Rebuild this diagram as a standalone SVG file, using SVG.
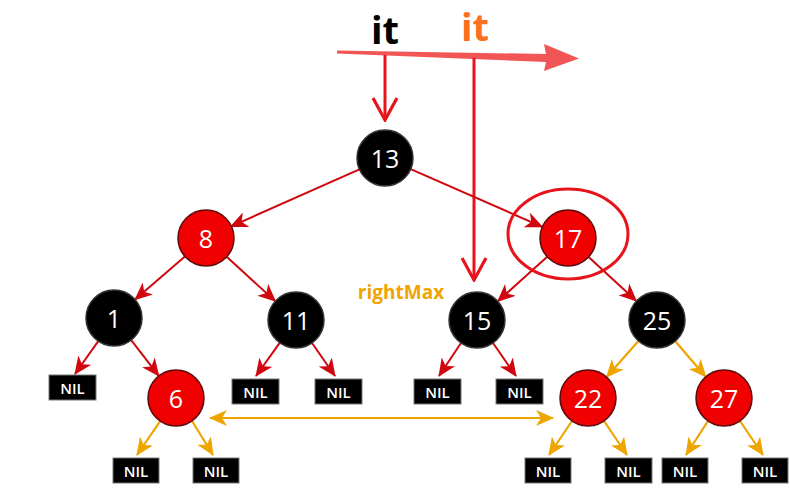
<svg xmlns="http://www.w3.org/2000/svg" width="790" height="496" viewBox="0 0 790 496">
<defs>
<marker id="ar" viewBox="0 0 18 16" refX="17" refY="8" markerWidth="18" markerHeight="16" orient="auto-start-reverse" markerUnits="userSpaceOnUse"><path d="M0,0 L18,8 L0,16 L5,8 z" fill="#d0070f"/></marker>
<marker id="ao" viewBox="0 0 18 16" refX="17" refY="8" markerWidth="18" markerHeight="16" orient="auto-start-reverse" markerUnits="userSpaceOnUse"><path d="M0,0 L18,8 L0,16 L5,8 z" fill="#eea500"/></marker>
<marker id="chev" viewBox="-26 -15 28 30" refX="0" refY="0" markerWidth="28" markerHeight="30" orient="auto" markerUnits="userSpaceOnUse"><path d="M-22,-12 L0,0 L-22,12" fill="none" stroke="#e8141c" stroke-width="3.2"/></marker>
<style>
.e{stroke:#d0070f;stroke-width:2;fill:none;marker-end:url(#ar)}
.o{stroke:#eea500;stroke-width:2.2;fill:none;marker-end:url(#ao)}
.bk{fill:#000;stroke:#333;stroke-width:1.5}
.rd{fill:#f00000;stroke:#5a0a0a;stroke-width:1.5}
.nt{fill:#fff;font-family:"Open Sans","DejaVu Sans",sans-serif;font-size:25px;text-anchor:middle;dominant-baseline:central}
.nil rect{fill:#000;stroke:#777;stroke-width:1}
.nil text{fill:#fff;font-family:"Open Sans","DejaVu Sans",sans-serif;font-size:15px;font-weight:600;text-anchor:middle;dominant-baseline:central}
.v{stroke:#e8141c;stroke-width:3;fill:none;marker-end:url(#chev)}
</style>
</defs>
<rect width="790" height="496" fill="#fff"/>

<g id="iterator">
<text x="385" y="44" font-family="'Open Sans','DejaVu Sans',sans-serif" font-size="38" font-weight="700" fill="#000" text-anchor="middle">it</text>
<text x="475" y="41" font-family="'Open Sans','DejaVu Sans',sans-serif" font-size="38" font-weight="700" fill="#f97020" text-anchor="middle">it</text>
<polygon points="337,50.5 546,54 544,44 579,58.5 544,71 546,62 337,53.5" fill="#f25555"/>
</g>

<g id="connectors">
<line class="v" x1="385" y1="55" x2="385" y2="120"/>
<line class="v" x1="474" y1="58" x2="474" y2="280"/>
<line class="e" x1="359.4" y1="169.4" x2="230.6" y2="226.6"/>
<line class="e" x1="410.7" y1="169.2" x2="542.3" y2="226.8"/>
<line class="e" x1="184.9" y1="256.4" x2="135.1" y2="299.6"/>
<line class="e" x1="226.7" y1="256.8" x2="275.3" y2="301.2"/>
<line class="e" x1="547.2" y1="256.7" x2="497.8" y2="301.3"/>
<line class="e" x1="588.6" y1="257" x2="636.4" y2="301"/>
<line class="e" x1="98.3" y1="341.2" x2="75" y2="374"/>
<line class="e" x1="131.2" y1="340.1" x2="158.8" y2="375.9"/>
<line class="e" x1="279.7" y1="342.8" x2="256" y2="376"/>
<line class="e" x1="312" y1="343" x2="335" y2="376"/>
<line class="e" x1="461" y1="343" x2="439" y2="376"/>
<line class="e" x1="493" y1="343" x2="516" y2="376"/>
<line class="o" x1="638.4" y1="341" x2="606.6" y2="377"/>
<line class="o" x1="675.3" y1="341.2" x2="705.7" y2="376.8"/>
<line class="o" x1="160.2" y1="421.1" x2="137" y2="455"/>
<line class="o" x1="192" y1="421" x2="213" y2="455"/>
<line class="o" x1="572" y1="421" x2="549" y2="455"/>
<line class="o" x1="604" y1="421" x2="627" y2="455"/>
<line class="o" x1="708" y1="421" x2="686" y2="455"/>
<line class="o" x1="740" y1="421" x2="763" y2="455"/>
<line class="o" x1="210" y1="418" x2="553" y2="418" style="marker-start:url(#ao)"/>
</g>

<g id="n13"><circle class="bk" cx="385" cy="158" r="28"/><text class="nt" x="385" y="158">13</text></g>
<g id="n8"><circle class="rd" cx="206" cy="238" r="28"/><text class="nt" x="206" y="238">8</text></g>
<g id="n17"><circle class="rd" cx="568" cy="238" r="28"/><text class="nt" x="568" y="238">17</text>
<ellipse cx="568" cy="234" rx="60" ry="45" fill="none" stroke="#e8141c" stroke-width="3"/></g>
<g id="n1"><circle class="bk" cx="114" cy="318" r="28"/><text class="nt" x="114" y="318">1</text></g>
<g id="n11"><circle class="bk" cx="296" cy="320" r="28"/><text class="nt" x="296" y="320">11</text></g>
<g id="n15"><circle class="bk" cx="477" cy="320" r="28"/><text class="nt" x="477" y="320">15</text>
<text x="401" y="299" font-family="'Open Sans','DejaVu Sans',sans-serif" font-size="19" font-weight="700" fill="#f0a400" text-anchor="middle">rightMax</text></g>
<g id="n25"><circle class="bk" cx="657" cy="320" r="28"/><text class="nt" x="657" y="320">25</text></g>
<g id="n6"><circle class="rd" cx="176" cy="398" r="28"/><text class="nt" x="176" y="398">6</text></g>
<g id="n22"><circle class="rd" cx="588" cy="398" r="28"/><text class="nt" x="588" y="398">22</text></g>
<g id="n27"><circle class="rd" cx="724" cy="398" r="28"/><text class="nt" x="724" y="398">27</text></g>

<g id="nil1" class="nil"><rect x="49" y="375" width="47" height="25"/><text x="72.5" y="388">NIL</text></g>
<g id="nil2" class="nil"><rect x="232" y="379" width="47" height="25"/><text x="255.5" y="392">NIL</text></g>
<g id="nil3" class="nil"><rect x="315" y="379" width="47" height="25"/><text x="338.5" y="392">NIL</text></g>
<g id="nil4" class="nil"><rect x="414" y="379" width="47" height="25"/><text x="437.5" y="392">NIL</text></g>
<g id="nil5" class="nil"><rect x="496" y="379" width="47" height="25"/><text x="519.5" y="392">NIL</text></g>
<g id="nil6" class="nil"><rect x="113" y="458" width="46" height="25"/><text x="136" y="471">NIL</text></g>
<g id="nil7" class="nil"><rect x="193" y="458" width="46" height="25"/><text x="216" y="471">NIL</text></g>
<g id="nil8" class="nil"><rect x="525" y="458" width="46" height="25"/><text x="548" y="471">NIL</text></g>
<g id="nil9" class="nil"><rect x="605" y="458" width="47" height="25"/><text x="628.5" y="471">NIL</text></g>
<g id="nil10" class="nil"><rect x="662" y="458" width="46" height="25"/><text x="685" y="471">NIL</text></g>
<g id="nil11" class="nil"><rect x="742" y="458" width="46" height="25"/><text x="765" y="471">NIL</text></g>
</svg>
